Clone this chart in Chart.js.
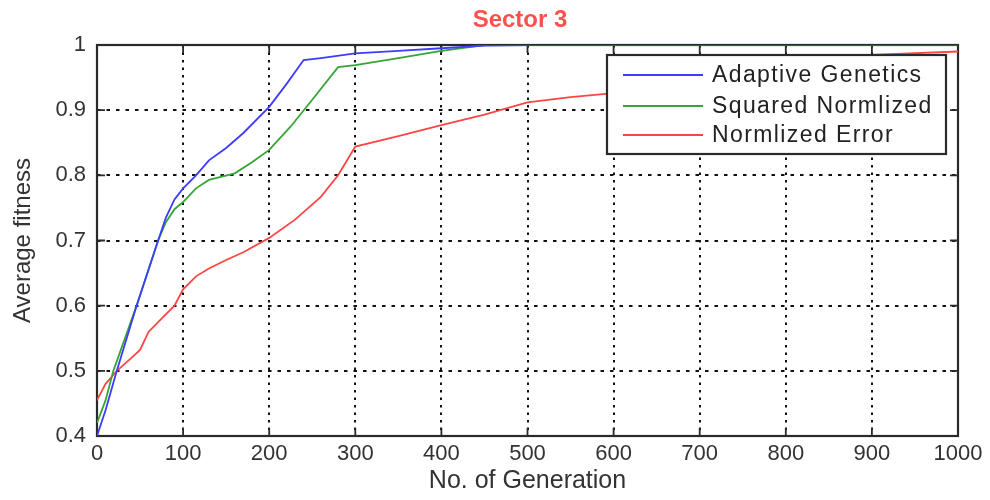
<!DOCTYPE html>
<html>
<head>
<meta charset="utf-8">
<title>Sector 3</title>
<script src="https://cdn.jsdelivr.net/npm/chart.js@4.4.1/dist/chart.umd.min.js"></script>
<style>
    html, body { margin: 0; padding: 0; background: #fff; }
    #wrap { width: 990px; height: 500px; }
</style>
</head>
<body>
<div id="wrap"><canvas id="fitnessChart"></canvas></div>
<script>
// 読み取ったデータ
const chartTitle = 'Sector 3';
const seriesNames = ['Adaptive Genetics', 'Squared Normlized', 'Normlized Error'];
const seriesColors = ['#3c3cff', '#35a535', '#ff4444'];

const adaptiveGen = [0, 10, 23, 46, 71, 80, 90, 100, 115, 130, 150, 170, 200, 220, 240, 260, 300, 350, 400, 450, 500, 600, 700, 800, 900, 1000];
const adaptiveFit = [0.40, 0.44, 0.50, 0.60, 0.70, 0.735, 0.763, 0.78, 0.80, 0.823, 0.842, 0.865, 0.905, 0.94, 0.977, 0.98, 0.987, 0.991, 0.995, 0.999, 1, 1, 1, 1, 1, 1];

const squaredGen = [0, 10, 19, 46, 71, 80, 90, 100, 115, 130, 160, 180, 200, 225, 250, 280, 300, 350, 400, 450, 500, 1000];
const squaredFit = [0.42, 0.455, 0.50, 0.60, 0.70, 0.728, 0.748, 0.759, 0.78, 0.793, 0.803, 0.82, 0.839, 0.875, 0.916, 0.966, 0.969, 0.98, 0.991, 1.0, 1.0, 1.0];

const errorGen = [0, 10, 23, 40, 50, 60, 75, 90, 100, 115, 130, 150, 170, 200, 230, 260, 280, 300, 350, 400, 450, 500, 550, 600, 700, 800, 900, 1000];
const errorFit = [0.455, 0.48, 0.50, 0.52, 0.532, 0.56, 0.58, 0.60, 0.625, 0.645, 0.657, 0.67, 0.682, 0.704, 0.732, 0.767, 0.80, 0.844, 0.86, 0.877, 0.893, 0.912, 0.92, 0.926, 0.947, 0.967, 0.985, 0.99];

const xTicks = [0, 100, 200, 300, 400, 500, 600, 700, 800, 900, 1000];
const yTicks = [0.4, 0.5, 0.6, 0.7, 0.8, 0.9, 1];

// x,y の組を作る
const toPoints = (xs, ys) => xs.map((x, i) => ({ x: x, y: ys[i] }));

// タイトル・枠・目盛り・凡例を描くプラグイン
const matlabLook = {
    id: 'matlabLook',
    // 枠と目盛りは線の下に描く
    beforeDatasetsDraw(chart) {
        const { ctx, chartArea: a, scales } = chart;
        ctx.save();
        ctx.strokeStyle = '#2a2a2a';
        ctx.lineWidth = 2.2;
        ctx.setLineDash([]);
        ctx.strokeRect(a.left, a.top, a.right - a.left, a.bottom - a.top);

        const tl = 8;
        ctx.lineWidth = 1.8;
        ctx.beginPath();
        xTicks.forEach(v => {
            const px = scales.x.getPixelForValue(v);
            ctx.moveTo(px, a.bottom); ctx.lineTo(px, a.bottom - tl);
            ctx.moveTo(px, a.top); ctx.lineTo(px, a.top + tl);
        });
        yTicks.forEach(v => {
            const py = scales.y.getPixelForValue(v);
            ctx.moveTo(a.left, py); ctx.lineTo(a.left + tl, py);
            ctx.moveTo(a.right, py); ctx.lineTo(a.right - tl, py);
        });
        ctx.stroke();
        ctx.restore();
    },
    afterDatasetsDraw(chart) {
        const { ctx } = chart;
        ctx.save();

        // 凡例
        const box = { x: 607, y: 55, w: 339, h: 99 };
        ctx.fillStyle = '#fff';
        ctx.fillRect(box.x, box.y, box.w, box.h);
        ctx.strokeStyle = '#2a2a2a';
        ctx.lineWidth = 2.2;
        ctx.strokeRect(box.x, box.y, box.w, box.h);
        const rows = [75, 106, 135];
        ctx.font = '23px "Liberation Sans", Arial, sans-serif';
        ctx.letterSpacing = '1.4px';
        ctx.textBaseline = 'middle';
        ctx.textAlign = 'left';
        chart.data.datasets.forEach((ds, i) => {
            ctx.strokeStyle = ds.borderColor;
            ctx.lineWidth = 2;
            ctx.beginPath();
            ctx.moveTo(623, rows[i]);
            ctx.lineTo(703, rows[i]);
            ctx.stroke();
            ctx.fillStyle = '#222';
            ctx.fillText(ds.label, 712, rows[i] + 1);
        });

        // タイトル
        ctx.letterSpacing = '0px';
        ctx.font = 'bold 24px "Liberation Sans", Arial, sans-serif';
        ctx.fillStyle = '#ff5050';
        ctx.textAlign = 'center';
        ctx.fillText(chartTitle, 520, 20);
        ctx.restore();
    }
};

const ctx = document.getElementById('fitnessChart').getContext('2d');
new Chart(ctx, {
    type: 'line',
    data: {
        datasets: [
            { label: seriesNames[0], data: toPoints(adaptiveGen, adaptiveFit), borderColor: seriesColors[0] },
            { label: seriesNames[1], data: toPoints(squaredGen, squaredFit), borderColor: seriesColors[1] },
            { label: seriesNames[2], data: toPoints(errorGen, errorFit), borderColor: seriesColors[2] }
        ]
    },
    options: {
        responsive: true,
        maintainAspectRatio: false,
        animation: false,
        layout: { padding: { top: 45, right: 32, left: 0, bottom: 0 } },
        elements: {
            line: { borderWidth: 1.8, tension: 0, fill: false },
            point: { radius: 0 }
        },
        plugins: {
            legend: { display: false },
            title: { display: false },
            tooltip: { enabled: false }
        },
        scales: {
            x: {
                type: 'linear',
                min: 0,
                max: 1000,
                afterFit(scale) { scale.height = 64; },
                afterBuildTicks(scale) { scale.ticks = xTicks.map(v => ({ value: v })); },
                grid: { color: '#111', lineWidth: 2, drawTicks: false },
                border: { display: false, dash: [2.5, 5] },
                ticks: {
                    autoSkip: false,
                    maxRotation: 0,
                    padding: 5,
                    color: '#333',
                    font: { family: '"Liberation Sans", Arial, sans-serif', size: 22 },
                    callback: v => String(v)
                },
                title: {
                    display: true,
                    text: 'No. of Generation',
                    color: '#333',
                    padding: { top: 0, bottom: 4 },
                    font: { family: '"Liberation Sans", Arial, sans-serif', size: 25 }
                }
            },
            y: {
                min: 0.4,
                max: 1,
                afterFit(scale) { scale.width = 97; },
                afterBuildTicks(scale) { scale.ticks = yTicks.map(v => ({ value: v })); },
                grid: { color: '#111', lineWidth: 2, drawTicks: false },
                border: { display: false, dash: [3.5, 6] },
                ticks: {
                    padding: 11,
                    color: '#333',
                    font: { family: '"Liberation Sans", Arial, sans-serif', size: 22 },
                    callback: v => String(Number(v.toFixed(1)))
                },
                title: {
                    display: true,
                    text: 'Average fitness',
                    color: '#333',
                    padding: { top: 9, bottom: 0 },
                    font: { family: '"Liberation Sans", Arial, sans-serif', size: 24 }
                }
            }
        }
    },
    plugins: [matlabLook]
});
</script>
</body>
</html>
